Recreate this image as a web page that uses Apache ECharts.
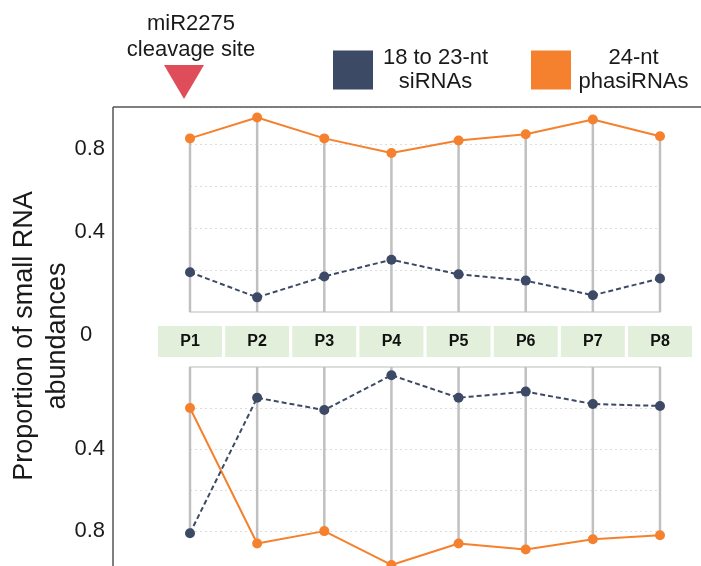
<!DOCTYPE html>
<html>
<head>
<meta charset="utf-8">
<script src="https://cdn.jsdelivr.net/npm/echarts@6/dist/echarts.min.js"></script>
<style>html,body{margin:0;padding:0;background:#fff}#c{width:701px;height:566px}</style>
</head>
<body>
<div id="c"></div>
<script>
const categories = ['P1','P2','P3','P4','P5','P6','P7','P8'];
// upper panel
const topPhasi = [0.83, 0.93, 0.83, 0.76, 0.82, 0.85, 0.92, 0.84];
const topSi    = [0.19, 0.07, 0.17, 0.25, 0.18, 0.15, 0.08, 0.16];
// lower panel (inverted)
const botSi    = [0.81, 0.15, 0.21, 0.04, 0.15, 0.12, 0.18, 0.19];
const botPhasi = [0.20, 0.86, 0.80, 0.965, 0.86, 0.89, 0.84, 0.82];
const yTickLabels = ['0.4', '0.8'];

const FONT = '"Liberation Sans", Arial, sans-serif';
const ORANGE = '#f5812f';
const BLUE = '#3c4a65';
const SI_NAME = '18 to 23-nt\nsiRNAs';
const PHASI_NAME = '24-nt\nphasiRNAs';

const maxOf = (a, b) => a.map((v, i) => Math.max(v, b[i]));

function yAxisCfg(idx, inverse, max) {
  return {
    type: 'value', gridIndex: idx, min: 0, max: max, interval: 0.2, inverse: inverse,
    axisLine: {show: false}, axisTick: {show: false},
    splitLine: {show: true, lineStyle: {color: '#dcdcdc', type: [2, 3], width: 1}},
    axisLabel: {
      margin: 85, fontSize: 22, color: '#1a1a1a', fontFamily: FONT,
      formatter: v => { const s = (Math.round(v * 10) / 10).toString(); return yTickLabels.includes(s) ? '{a|' + s + '}' : ''; },
      rich: {a: {fontSize: 22, color: '#1a1a1a', fontFamily: FONT, padding: inverse ? [0, 0, 0, 0] : [8, 0, 0, 0]}},
      showMaxLabel: false
    }
  };
}

function lineSeries(name, data, idx, color, dashed) {
  return {
    name: name, type: 'line', xAxisIndex: idx, yAxisIndex: idx, data: data,
    symbol: 'circle', symbolSize: 10, z: 5,
    itemStyle: {color: color},
    lineStyle: {color: color, width: 2, type: dashed ? [5, 3] : 'solid'},
    clip: false
  };
}

function dropSeries(data, idx) {
  return {
    name: 'drop' + idx, type: 'bar', xAxisIndex: idx, yAxisIndex: idx, data: data,
    barWidth: 2.5, itemStyle: {color: '#c0c0c0'}, z: 1, silent: true
  };
}

const chart = echarts.init(document.getElementById('c'), null, {renderer: 'canvas'});
chart.setOption({
  backgroundColor: '#fff',
  animation: false,
  title: {
    text: 'miR2275\ncleavage site', left: 186, top: 6, textAlign: 'center',
    textStyle: {fontSize: 22, fontWeight: 'normal', color: '#1a1a1a', fontFamily: FONT, lineHeight: 26}
  },
  legend: {
    data: [SI_NAME, PHASI_NAME], left: 333, top: 47, icon: 'rect', padding: 0,
    itemWidth: 40, itemHeight: 39, itemGap: 38,
    itemStyle: {borderWidth: 0},
    textStyle: {fontSize: 22, color: '#1a1a1a', fontFamily: FONT,
      rich: {t: {width: 115, align: 'center', fontSize: 22, lineHeight: 24, color: '#1a1a1a', fontFamily: FONT}}},
    formatter: name => name.split('\n').map(s => '{t|' + s + '}').join('\n')
  },
  grid: [
    {left: 190, right: 41, top: 107, bottom: 254},
    {left: 190, right: 41, top: 367, bottom: 0}
  ],
  xAxis: [
    {type: 'category', gridIndex: 0, data: categories, boundaryGap: false, position: 'bottom',
     axisLine: {lineStyle: {color: '#dddddd', width: 2}}, axisTick: {show: false}, splitLine: {show: false},
     axisLabel: {margin: 14, fontSize: 16, fontWeight: 'bold', color: '#111', fontFamily: FONT,
       backgroundColor: '#e2efda', width: 64, height: 31, lineHeight: 31, align: 'center', verticalAlign: 'top'}},
    {type: 'category', gridIndex: 1, data: categories, boundaryGap: false, position: 'top',
     axisLine: {lineStyle: {color: '#dddddd', width: 2}}, axisTick: {show: false}, splitLine: {show: false},
     axisLabel: {show: false}}
  ],
  yAxis: [yAxisCfg(0, false, 0.98), yAxisCfg(1, true, 0.97)],
  series: [
    dropSeries(maxOf(topPhasi, topSi), 0),
    dropSeries(maxOf(botPhasi, botSi), 1),
    lineSeries(PHASI_NAME, topPhasi, 0, ORANGE, false),
    lineSeries(SI_NAME, topSi, 0, BLUE, true),
    lineSeries(PHASI_NAME, botPhasi, 1, ORANGE, false),
    lineSeries(SI_NAME, botSi, 1, BLUE, true)
  ],
  graphic: [
    {type: 'polygon', shape: {points: [[164, 65], [204, 65], [184, 99]]}, style: {fill: '#df4d5a'}, z: 10},
    {type: 'line', shape: {x1: 113, y1: 107, x2: 701, y2: 107}, style: {stroke: '#555', lineWidth: 1.5}, z: 10},
    {type: 'line', shape: {x1: 113, y1: 107, x2: 113, y2: 566}, style: {stroke: '#555', lineWidth: 1.5}, z: 10},
    {type: 'text', x: 86, y: 335, style: {text: '0', font: '22px ' + FONT, fill: '#1a1a1a', textAlign: 'center', textVerticalAlign: 'middle'}, z: 10},
    {type: 'text', x: 41, y: 336, rotation: Math.PI / 2,
     style: {text: 'Proportion of small RNA\nabundances', font: '27px ' + FONT, fill: '#1a1a1a', textAlign: 'center', textVerticalAlign: 'middle', lineHeight: 33}, z: 10}
  ]
});
</script>
</body>
</html>
